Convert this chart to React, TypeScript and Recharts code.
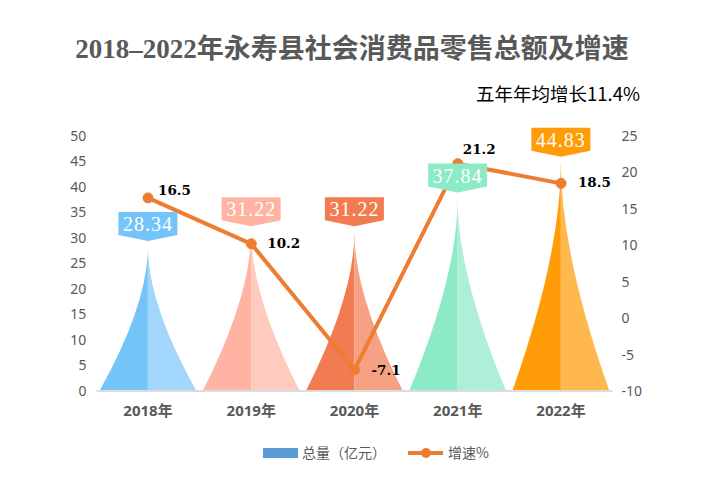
import React from 'react';
import { ComposedChart, Bar, Line, XAxis, YAxis, LabelList } from 'recharts';

const years = ['2018年', '2019年', '2020年', '2021年', '2022年'];
const totals = [28.34, 31.22, 31.22, 37.84, 44.83];
const growth = [16.5, 10.2, -7.1, 21.2, 18.5];
const leftTicks = [0, 5, 10, 15, 20, 25, 30, 35, 40, 45, 50];
const rightTicks = [-10, -5, 0, 5, 10, 15, 20, 25];

const darkColors = ['#74C4FA', '#FFB3A2', '#F27B52', '#8CEAC6', '#FF9C08'];
const lightColors = ['#A2D6FC', '#FFCBBF', '#F6A084', '#AEF0D7', '#FFB84E'];
const growthLabelOffsets = [
  { dx: 10, dy: -3 },
  { dx: 16, dy: 4 },
  { dx: 17, dy: 5 },
  { dx: 5, dy: -10 },
  { dx: 17, dy: 4 },
];

const data = years.map((y, i) => ({ year: y, total: totals[i], growth: growth[i] }));

const PLOT_LEFT = 96;
const BAND = (612.6 - 96.4) / 5;

const idxFromX = (cx: number) => Math.max(0, Math.min(4, Math.floor((cx - PLOT_LEFT) / BAND)));

const Pict = (props: any) => {
  const { x, y, width, height } = props;
  if (height == null || width == null) return null;
  const cx = x + width / 2;
  const idx = props.index ?? idxFromX(cx);
  const b = y + height;
  const c = y + height * 0.4;
  const left = `M${cx},${y} Q${cx},${c} ${x},${b} L${cx},${b} Z`;
  const right = `M${cx},${y} Q${cx},${c} ${x + width},${b} L${cx},${b} Z`;
  return (
    <g>
      <path d={left} fill={darkColors[idx]} />
      <path d={right} fill={lightColors[idx]} />
    </g>
  );
};

const BoxLabel = (props: any) => {
  const { x, y, width, value } = props;
  const cx = x + width / 2;
  const idx = props.index ?? idxFromX(cx);
  const w = 59;
  const tip = y - 5.5;
  const bot = y - 11.5;
  const top = y - 34.5;
  const d = `M${cx - w / 2},${top} L${cx + w / 2},${top} L${cx + w / 2},${bot} L${cx},${tip} L${cx - w / 2},${bot} Z`;
  return (
    <g>
      <path d={d} fill={darkColors[idx]} />
      <text
        x={cx}
        y={bot - 4}
        textAnchor="middle"
        fill="#ffffff"
        fontFamily="'Liberation Serif', serif"
        fontSize={20}
        letterSpacing={1}
      >
        {Number(value).toFixed(2)}
      </text>
    </g>
  );
};

const GrowthLabel = (props: any) => {
  const { x, y, value } = props;
  let idx = props.index;
  if (idx == null) idx = growth.indexOf(Number(value));
  const off = growthLabelOffsets[idx] || { dx: 10, dy: 0 };
  return (
    <text
      x={x + off.dx}
      y={y + off.dy}
      fill="#000"
      fontFamily="'DejaVu Serif', serif"
      fontWeight={700}
      fontSize={13.5}
    >
      {value}
    </text>
  );
};

const tickStyle = { fill: '#595959', fontSize: 14, fontFamily: "'Noto Sans', 'Noto Sans CJK SC', sans-serif" };

export default function App() {
  return (
    <div style={{ position: 'absolute', left: 0, top: 0, width: 720, height: 488, background: '#fff' }}>
      <ComposedChart
        width={720}
        height={488}
        data={data}
        margin={{ top: 136, right: 0, bottom: 67, left: 0 }}
      >
        <XAxis
          dataKey="year"
          xAxisId={0}
          axisLine={{ stroke: '#DDDDDD', strokeWidth: 2 }}
          tickLine={false}
          height={30}
          tickMargin={8}
          tick={{ fill: '#595959', fontSize: 15, fontWeight: 700, fontFamily: "'Noto Sans', 'Noto Sans CJK SC', sans-serif" }}
        />
        <YAxis
          yAxisId="left"
          domain={[0, 50]}
          ticks={leftTicks}
          width={96.4}
          axisLine={false}
          tickLine={false}
          tickMargin={4}
          interval={0}
          tick={tickStyle}
        />
        <YAxis
          yAxisId="right"
          orientation="right"
          domain={[-10, 25]}
          ticks={rightTicks}
          width={107.4}
          axisLine={false}
          tickLine={false}
          tickMargin={3}
          interval={0}
          tick={{ ...tickStyle, textAnchor: 'start' }}
        />
        <Bar yAxisId="left" dataKey="total" barSize={97} shape={<Pict />} isAnimationActive={false}>
          <LabelList dataKey="total" content={<BoxLabel />} />
        </Bar>
        <Line
          yAxisId="right"
          dataKey="growth"
          stroke="#ED7D31"
          strokeWidth={4}
          dot={{ r: 5, fill: '#ED7D31', stroke: '#ED7D31', strokeWidth: 1 }}
          activeDot={false}
          isAnimationActive={false}
        >
          <LabelList dataKey="growth" content={<GrowthLabel />} />
        </Line>
      </ComposedChart>
      <svg
        width={720}
        height={488}
        style={{ position: 'absolute', left: 0, top: 0, pointerEvents: 'none' }}
      >
        <text
          x={352}
          y={58}
          textAnchor="middle"
          fill="#595959"
          fontFamily="'Liberation Serif', 'Noto Sans CJK SC', serif"
          fontWeight={700}
          fontSize={27}
        >
          2018–2022年永寿县社会消费品零售总额及增速
        </text>
        <text
          x={640}
          y={101}
          textAnchor="end"
          fill="#000"
          fontFamily="'Noto Sans CJK SC', sans-serif"
          fontSize={18.5}
        >
          五年年均增长11.4%
        </text>
        <rect x={263} y={448} width={35} height={10} fill="#5B9BD5" />
        <text x={302} y={458} fill="#595959" fontFamily="'Noto Sans CJK SC', sans-serif" fontSize={14}>
          总量（亿元）
        </text>
        <line x1={408} y1={453} x2={443} y2={453} stroke="#ED7D31" strokeWidth={4} />
        <circle cx={426} cy={453} r={5} fill="#ED7D31" />
        <text x={448} y={458} fill="#595959" fontFamily="'Noto Sans CJK SC', sans-serif" fontSize={14}>
          增速%
        </text>
      </svg>
    </div>
  );
}
